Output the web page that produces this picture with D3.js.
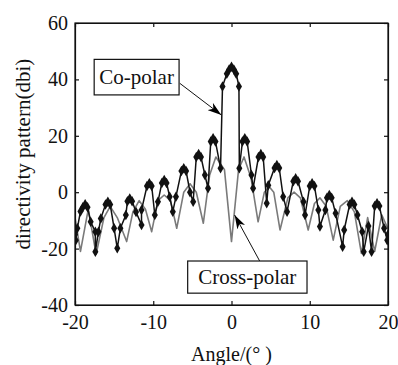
<!DOCTYPE html>
<html>
<head>
<meta charset="utf-8">
<script src="https://cdn.jsdelivr.net/npm/d3@7/dist/d3.min.js"></script>
<style>
  html, body { margin: 0; padding: 0; background: #fff; }
  svg { display: block; font-family: 'Liberation Serif', 'Times New Roman', serif; }
</style>
</head>
<body>
<svg id="chart" width="398" height="365"></svg>
<script>
// tick values
const xTicks = [-20, -10, 0, 10, 20]
const yTicks = [-40, -20, 0, 20, 40, 60]

// co-polar pattern (angle in degrees, dbi)
const coAngle = [
  -20.0, -19.9, -19.7, -19.3, -19.0, -18.7, -18.4, -18.0, -17.4, -17.4,
  -17.0, -16.7, -16.1, -15.8, -15.5, -15.0, -14.6, -14.2, -13.5, -13.3,
  -13.0, -12.7, -12.2, -11.5, -11.5, -10.8, -10.5, -10.2, -9.8, -9.4,
  -8.9, -8.6, -8.3, -7.9, -7.5, -7.1, -6.4, -6.1, -5.8, -5.3,
  -4.9, -4.5, -4.2, -3.9, -3.4, -3.0, -2.65, -2.35, -2.05, -1.4,
  -1.15, -0.6, -0.3, 0.0, 0.3, 0.6, 0.95, 1.0, 1.4, 1.7,
  2.0, 2.55, 2.76, 3.45, 3.75, 4.05, 4.5, 4.7, 5.5, 5.8,
  6.1, 6.6, 7.1, 7.9, 8.2, 8.5, 9.2, 9.4, 10.0, 10.3,
  10.6, 11.1, 11.3, 12.0, 12.2, 12.5, 12.8, 13.3, 14.2, 14.4,
  15.1, 15.4, 15.7, 16.1, 16.7, 16.9, 17.5, 17.9, 18.3, 18.6,
  18.9, 19.5, 19.9, 20.0
]
const coValue = [
  -15, -17, -12.8, -6.8, -5.3, -4.3, -5.3, -10.5, -14, -21.1,
  -14, -9.3, -4.4, -3.4, -4.4, -12.8, -19.9, -12.8, -8.1, -3.2,
  -2.2, -3.2, -7, -11.6, -6.3, 2.2, 3.2, 2.2, -8.1, -3.4,
  3.3, 4.3, 3.3, -1.6, -6.9, -1.6, 7.5, 8.5, 7.5, 0,
  -3.4, 12.5, 13.5, 12.5, 6.1, 1.4, 18, 19.1, 18, 8.5,
  37.5, 42, 43.5, 44.5, 43.5, 42, 37.5, 8.5, 18, 19.1,
  18, 6.1, 1.4, 12.5, 13.5, 12.5, -3.9, 2.5, 8.6, 9.6,
  8.6, -1.6, -6.9, 3.9, 4.9, 3.9, -3.4, -8.1, 2.2, 3.2,
  2.2, -6.3, -12.2, -6.3, -2, -1, -2, -7.5, -19.3, -13.4,
  -4.4, -3.4, -4.4, -8.1, -14, -21.1, -12, -21.1, -4.9, -3.9,
  -4.9, -12.8, -17, -15
]

// cross-polar pattern
const crossAngle = [
  -20.0, -19.3, -18.3, -17.3, -16.3, -15.5, -14.6, -13.4, -12.6, -11.8,
  -11.0, -10.2, -9.4, -8.6, -7.8, -7.0, -6.1, -5.3, -4.5, -3.6,
  -2.8, -2.0, -0.9, 0.0, 0.9, 1.6, 2.5, 3.4, 4.2, 4.8,
  5.4, 6.2, 7.2, 8.0, 8.8, 9.8, 10.6, 11.3, 12.1, 13.0,
  13.9, 14.8, 15.7, 16.6, 17.4, 18.3, 19.2, 20.0
]
const crossValue = [
  -9, -21, -6, -22, -9, -5, -9, -17.5, -7, -3,
  -6, -14, -3, -1, -3, -12.8, 0, 3, 0, -11,
  6, 12.5, 8, -17.5, 8, 12.5, 5, -10.5, 0, 2,
  0, -13.4, -2, 0, -2, -13.4, -4, -2, -5, -17,
  -5, -3, -7, -21.7, -9, -21, -8, -13
]

const svg = d3.select('#chart')
const svgWidth = 398
const svgHeight = 365
const margin = { top: 23, right: 10, bottom: 60, left: 75 }
const width = svgWidth - margin.left - margin.right
const height = svgHeight - margin.top - margin.bottom

const g = svg.append('g').attr('transform', `translate(${margin.left},${margin.top})`)

const x = d3.scaleLinear().domain([-20, 20]).range([0, width])
const y = d3.scaleLinear().domain([-40, 60]).range([height, 0])

const defs = svg.append('defs')
defs.append('clipPath').attr('id', 'plot')
  .append('rect').attr('width', width).attr('height', height)
defs.append('marker')
  .attr('id', 'head')
  .attr('viewBox', '0 0 14 9')
  .attr('refX', 14).attr('refY', 4.5)
  .attr('markerWidth', 14).attr('markerHeight', 9)
  .attr('markerUnits', 'userSpaceOnUse')
  .attr('orient', 'auto')
  .append('path').attr('d', 'M0,0 L14,4.5 L0,9 L4,4.5 Z').attr('fill', '#000')

const crossData = crossAngle.map((a, i) => [a, crossValue[i]])
const coData = coAngle.map((a, i) => [a, coValue[i]])

const line = d3.line().x(d => x(d[0])).y(d => y(d[1]))

const plot = g.append('g').attr('clip-path', 'url(#plot)')

plot.append('path')
  .datum(crossData)
  .attr('fill', 'none')
  .attr('stroke', '#7a7a7a')
  .attr('stroke-width', 1.6)
  .attr('stroke-linejoin', 'round')
  .attr('d', line)

plot.append('path')
  .datum(coData)
  .attr('fill', 'none')
  .attr('stroke', '#111')
  .attr('stroke-width', 1.5)
  .attr('d', line)

plot.selectAll('.pt')
  .data(coData)
  .enter().append('path')
  .attr('class', 'pt')
  .attr('transform', d => `translate(${x(d[0])},${y(d[1])})`)
  .attr('d', d3.symbol().type(d3.symbolDiamond).size(32))
  .attr('fill', '#111')

// axes, MATLAB style box with inward ticks on every side
const tickLen = 4
const fmt = d => String(d)
g.append('g')
  .attr('transform', `translate(0,${height})`)
  .call(d3.axisBottom(x).tickValues(xTicks).tickFormat(fmt).tickSizeInner(-tickLen).tickSizeOuter(0).tickPadding(10))
g.append('g')
  .call(d3.axisLeft(y).tickValues(yTicks).tickFormat(fmt).tickSizeInner(-tickLen).tickSizeOuter(0).tickPadding(7))
g.append('g')
  .call(d3.axisTop(x).tickValues(xTicks).tickSizeInner(-tickLen).tickSizeOuter(0).tickFormat(''))
g.append('g')
  .attr('transform', `translate(${width},0)`)
  .call(d3.axisRight(y).tickValues(yTicks).tickSizeInner(-tickLen).tickSizeOuter(0).tickFormat(''))

g.selectAll('.tick text')
  .attr('font-family', "'Liberation Serif', 'Times New Roman', serif")
  .attr('font-size', 20)
  .attr('fill', '#111')
g.selectAll('.domain, .tick line').attr('stroke', '#111').attr('stroke-width', 1.2)

g.append('rect')
  .attr('width', width).attr('height', height)
  .attr('fill', 'none').attr('stroke', '#111').attr('stroke-width', 1.2)

// axis titles
svg.append('text')
  .attr('x', margin.left + x(0))
  .attr('y', 361)
  .attr('text-anchor', 'middle')
  .attr('font-size', 20)
  .attr('fill', '#111')
  .text('Angle/(° )')

svg.append('text')
  .attr('transform', `translate(30,${margin.top + y(13.5)}) rotate(-90)`)
  .attr('text-anchor', 'middle')
  .attr('font-size', 21)
  .attr('fill', '#111')
  .text('directivity pattern(dbi)')

// annotations
function label(text, x0, y0, x1, y1) {
  const box = g.append('g')
  box.append('rect')
    .attr('x', x(x0)).attr('y', y(y0))
    .attr('width', x(x1) - x(x0)).attr('height', y(y1) - y(y0))
    .attr('fill', '#fff').attr('stroke', '#111').attr('stroke-width', 1.2)
  box.append('text')
    .attr('x', (x(x0) + x(x1)) / 2)
    .attr('y', (y(y0) + y(y1)) / 2)
    .attr('dy', '0.35em')
    .attr('text-anchor', 'middle')
    .attr('font-size', 21)
    .attr('fill', '#111')
    .text(text)
}

function arrow(x0, y0, x1, y1) {
  g.append('line')
    .attr('x1', x(x0)).attr('y1', y(y0))
    .attr('x2', x(x1)).attr('y2', y(y1))
    .attr('stroke', '#111').attr('stroke-width', 1)
    .attr('marker-end', 'url(#head)')
}

arrow(-6.6, 38.6, -1.3, 27.4)
label('Co-polar', -17.55, 47.1, -6.7, 34.5)

arrow(3.6, -24.4, 0.4, -8.1)
label('Cross-polar', -5.6, -24.4, 9.65, -35.8)
</script>
</body>
</html>
